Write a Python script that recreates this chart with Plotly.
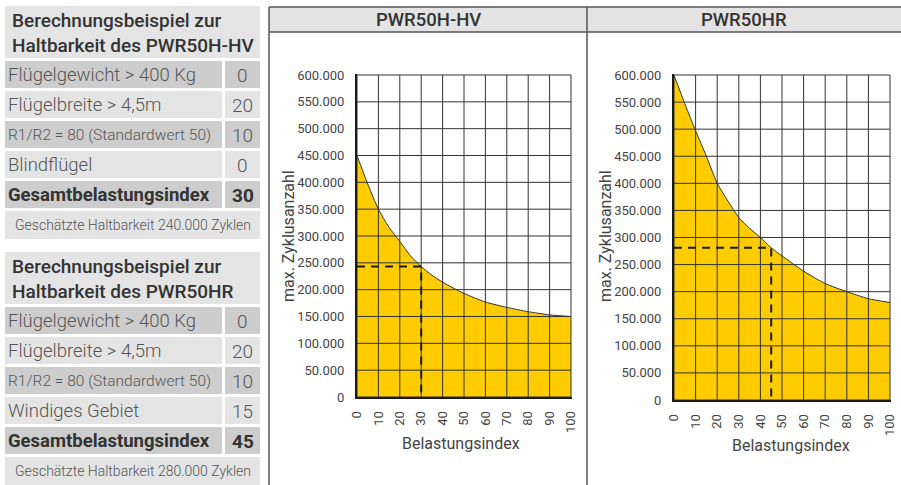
import plotly.graph_objects as go

W, H = 901, 485

# ---------------- data ----------------
belastung_ticks = [0, 10, 20, 30, 40, 50, 60, 70, 80, 90, 100]
zyklen_ticks = [0, 50000, 100000, 150000, 200000, 250000, 300000, 350000, 400000, 450000, 500000, 550000, 600000]

hv_index = [0, 5, 10, 15, 20, 25, 30, 35, 40, 45, 50, 60, 70, 80, 90, 100]
hv_cycles = [450000, 397000, 350000, 316000, 290000, 263000, 243000, 227000, 214000, 203000, 193000, 177000, 167000, 159000, 153000, 150000]
hv_example_index = 30
hv_example_cycles = 243000

hr_index = [0, 5, 10, 15, 20, 25, 30, 35, 40, 45, 50, 60, 70, 80, 90, 100]
hr_cycles = [600000, 547000, 497000, 450000, 400000, 367000, 337000, 317000, 300000, 281000, 266000, 238000, 215000, 200000, 187000, 180000]
hr_example_index = 45
hr_example_cycles = 281000

panel_titles = ["PWR50H-HV", "PWR50HR"]
y_title = "max. Zyklusanzahl"
x_title = "Belastungsindex"

t1_title = ["Berechnungsbeispiel zur", "Haltbarkeit des PWR50H-HV"]
t1_labels = ["Flügelgewicht > 400 Kg", "Flügelbreite > 4,5m", "R1/R2 = 80 (Standardwert 50)", "Blindflügel", "Gesamtbelastungsindex"]
t1_values = ["0", "20", "10", "0", "30"]
t1_note = "Geschätzte Haltbarkeit 240.000 Zyklen"

t2_title = ["Berechnungsbeispiel zur", "Haltbarkeit des PWR50HR"]
t2_labels = ["Flügelgewicht > 400 Kg", "Flügelbreite > 4,5m", "R1/R2 = 80 (Standardwert 50)", "Windiges Gebiet", "Gesamtbelastungsindex"]
t2_values = ["0", "20", "10", "15", "45"]
t2_note = "Geschätzte Haltbarkeit 280.000 Zyklen"

# ---------------- helpers ----------------
def px(x):
    return x / W

def py(y):
    return 1 - y / H

FONT = "Roboto"
TXT = "#555555"
DARKTXT = "#333333"
YELLOW = "#FFCC00"
GRID = "#333333"
DARK_ROW = "#cdcdcd"
LIGHT_ROW = "#e4e4e4"

def fmt(v):
    return f"{v:,}".replace(",", ".")

fig = go.Figure()

X_MAX = 100.5
Y_MAX = 602000

def add_chart(xs, ys, ex_x, ex_y, xa, ya):
    fig.add_trace(go.Scatter(x=xs, y=ys, mode="lines", fill="tozeroy",
                             fillcolor=YELLOW, line=dict(color="#333", width=1, shape="spline", smoothing=0.6),
                             xaxis=xa, yaxis=ya, hoverinfo="skip", showlegend=False))
    gx, gy = [], []
    for v in belastung_ticks:
        gx += [v, v, None]
        gy += [zyklen_ticks[0], zyklen_ticks[-1], None]
    for v in zyklen_ticks:
        gx += [belastung_ticks[0], belastung_ticks[-1], None]
        gy += [v, v, None]
    fig.add_trace(go.Scatter(x=gx, y=gy, mode="lines", line=dict(color=GRID, width=1),
                             xaxis=xa, yaxis=ya, hoverinfo="skip", showlegend=False))
    fig.add_trace(go.Scatter(x=[0, ex_x, ex_x], y=[ex_y, ex_y, 0], mode="lines",
                             line=dict(color="#1a1a1a", width=2, dash="8px,6px"),
                             xaxis=xa, yaxis=ya, hoverinfo="skip", showlegend=False))

add_chart(hv_index, hv_cycles, hv_example_index, hv_example_cycles, "x", "y")
add_chart(hr_index, hr_cycles, hr_example_index, hr_example_cycles, "x2", "y2")

def domains(x0, x100, y0, y600):
    xr = x0 + (x100 - x0) * X_MAX / 100
    yt = y0 - (y0 - y600) * Y_MAX / 600000
    return [px(x0), px(xr)], [py(y0), py(yt)]

dx1, dy1 = domains(357, 571, 397, 75)
dx2, dy2 = domains(674, 890, 400, 75)

xaxis_common = dict(range=[0, X_MAX], tickvals=belastung_ticks, ticktext=[str(v) for v in belastung_ticks],
                    tickangle=-90, showgrid=False, zeroline=False, showline=True, linewidth=2,
                    linecolor="#1a1a1a", ticks="", ticklabelstandoff=7, automargin=False,
                    tickfont=dict(family=FONT, size=13, color="#444"), layer="above traces", fixedrange=True)
yaxis_common = dict(range=[0, Y_MAX], tickvals=zyklen_ticks, ticktext=[fmt(v) for v in zyklen_ticks],
                    showgrid=False, zeroline=False, showline=True, linewidth=2, linecolor="#1a1a1a",
                    ticks="", ticklabelstandoff=8, automargin=False,
                    tickfont=dict(family=FONT, size=13, color="#444"), layer="above traces", fixedrange=True)

shapes = []
annotations = []

def note(x, y, text, font, xanchor="center", **kw):
    annotations.append(dict(x=px(x), y=py(y), xref="paper", yref="paper", text=text, showarrow=False,
                            xanchor=xanchor, yanchor="middle", font=font, **kw))

# ---------------- panel frames ----------------
LINEC = "#555555"
for (x0, x1), title in zip([(269, 587), (587, 901)], panel_titles):
    shapes.append(dict(type="rect", xref="paper", yref="paper", x0=px(x0), x1=px(x1), y0=py(32), y1=py(7),
                       fillcolor="#e3e3e3", line=dict(width=0), layer="below"))
    cx = (x0 + x1) / 2 if x1 < W else 744
    note(cx, 20, title, dict(family=FONT, size=18.5, color=DARKTXT, weight=500))
for xv in [269, 587]:
    shapes.append(dict(type="line", xref="paper", yref="paper", x0=px(xv), x1=px(xv), y0=py(7), y1=py(485),
                       line=dict(color=LINEC, width=1.5)))
for yv in [7, 32]:
    shapes.append(dict(type="line", xref="paper", yref="paper", x0=px(269), x1=px(901), y0=py(yv), y1=py(yv),
                       line=dict(color=LINEC, width=1.5)))

for cx, cy in [(288, 236), (605, 236)]:
    note(cx, cy, y_title, dict(family=FONT, size=16, color="#444"), textangle=-90)
for cx, cy in [(461, 443), (791, 445)]:
    note(cx, cy, x_title, dict(family=FONT, size=16, color="#444"))

# ---------------- tables ----------------
def add_table(top, title, labels, values, note_text):
    LX0, LX1, VX0, VX1 = 5, 222, 225, 260
    shapes.append(dict(type="rect", xref="paper", yref="paper", x0=px(LX0), x1=px(VX1), y0=py(top + 52), y1=py(top),
                       fillcolor=LIGHT_ROW, line=dict(width=0), layer="below"))
    note(10, top + 27, "<br>".join(title), dict(family=FONT, size=19, color=DARKTXT, weight=500),
         xanchor="left", align="left")
    for i, (lab, val) in enumerate(zip(labels, values)):
        r0 = top + 55 + 30 * i
        r1 = r0 + 27
        col = DARK_ROW if i % 2 == 0 else LIGHT_ROW
        for a, b in [(LX0, LX1), (VX0, VX1)]:
            shapes.append(dict(type="rect", xref="paper", yref="paper", x0=px(a), x1=px(b), y0=py(r1), y1=py(r0),
                               fillcolor=col, line=dict(width=0), layer="below"))
        bold = i == len(labels) - 1
        small = lab.startswith("R1/R2")
        if bold:
            fnt = dict(family=FONT, size=18.5, color=DARKTXT, weight=700)
            vfnt = dict(family=FONT, size=19, color=DARKTXT, weight=700)
        else:
            fnt = dict(family=FONT, size=15.5 if small else 18.5, color=TXT, weight=300)
            vfnt = dict(family=FONT, size=19, color=TXT, weight=300)
        note(6, (r0 + r1) / 2 + 0.5, lab, fnt, xanchor="left")
        note((VX0 + VX1) / 2, (r0 + r1) / 2 + 0.5, val, vfnt)
    n0 = top + 55 + 30 * len(labels)
    n1 = n0 + 28
    shapes.append(dict(type="rect", xref="paper", yref="paper", x0=px(LX0), x1=px(VX1), y0=py(n1), y1=py(n0),
                       fillcolor=LIGHT_ROW, line=dict(width=0), layer="below"))
    note((LX0 + VX1) / 2, (n0 + n1) / 2, note_text, dict(family=FONT, size=14, color=TXT, weight=300))

add_table(6, t1_title, t1_labels, t1_values, t1_note)
add_table(252, t2_title, t2_labels, t2_values, t2_note)

fig.update_layout(
    width=W, height=H, autosize=False,
    margin=dict(l=0, r=0, t=0, b=0, pad=0, autoexpand=False),
    paper_bgcolor="white", plot_bgcolor="rgba(0,0,0,0)",
    showlegend=False,
    xaxis=dict(domain=dx1, anchor="y", **xaxis_common),
    yaxis=dict(domain=dy1, anchor="x", **yaxis_common),
    xaxis2=dict(domain=dx2, anchor="y2", **xaxis_common),
    yaxis2=dict(domain=dy2, anchor="x2", **yaxis_common),
    shapes=shapes,
    annotations=annotations,
)

fig.write_html("out.html", config={"responsive": False, "displayModeBar": False},
               post_script="document.body.style.margin='0';document.body.style.overflow='hidden';")
